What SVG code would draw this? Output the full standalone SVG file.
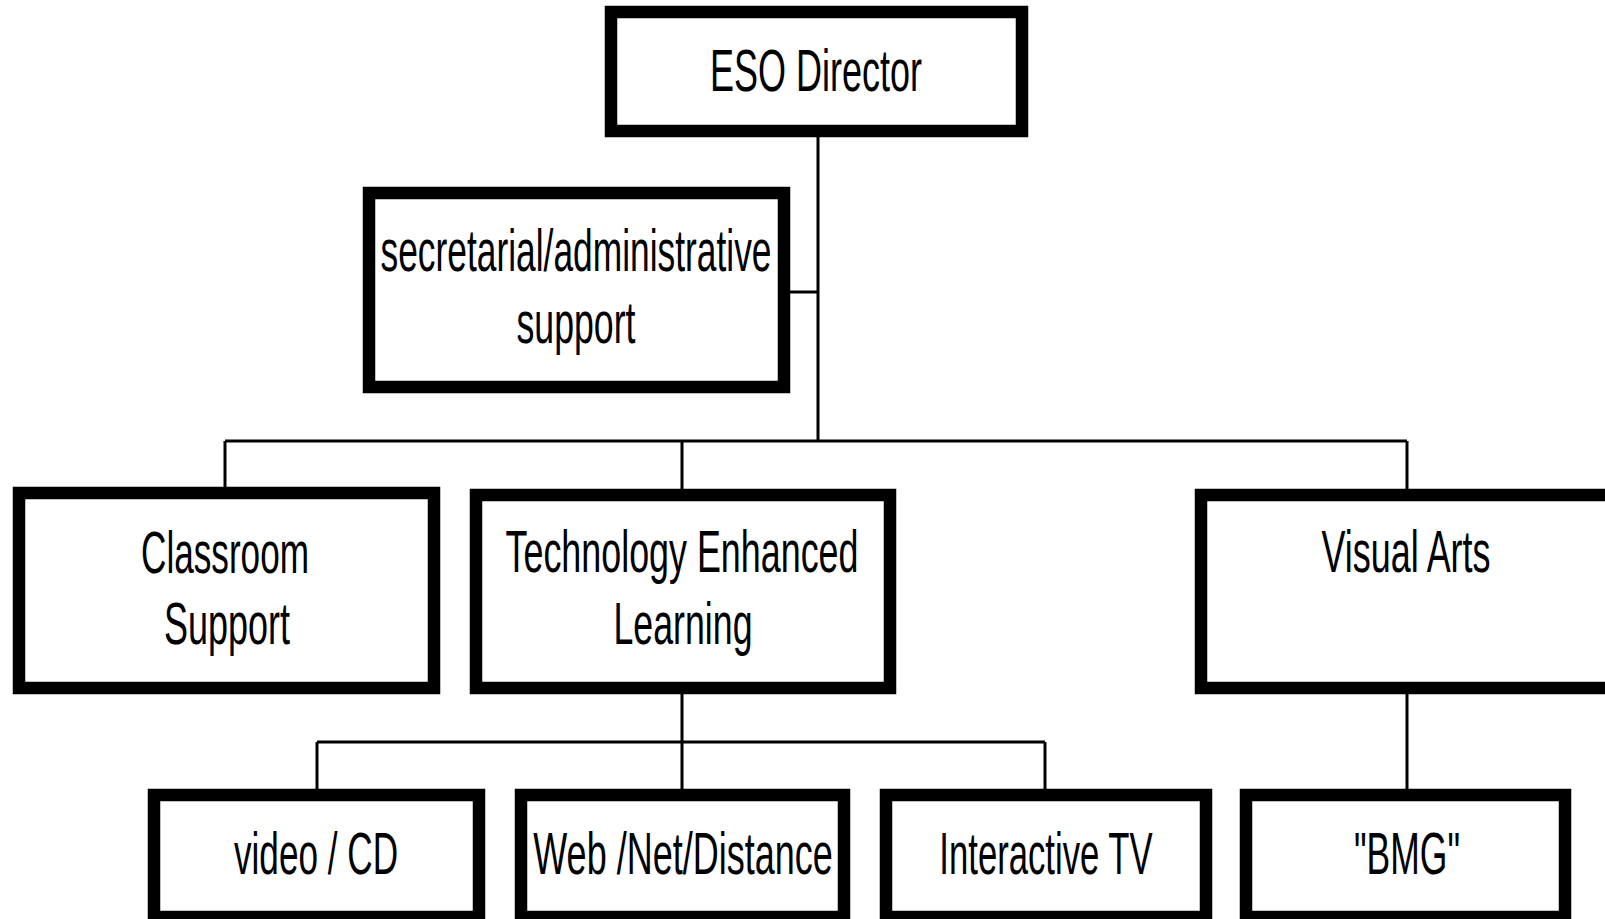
<svg xmlns="http://www.w3.org/2000/svg" width="1605" height="919" viewBox="0 0 1605 919">
  <style>
    .box { fill: #ffffff; stroke: #000000; stroke-width: 12.5; }
    .link { fill: none; stroke: #000000; stroke-width: 3; }
    .lbl { font-family: "Liberation Sans", Arial, sans-serif; font-size: 60px; fill: #000000; text-anchor: middle; }
  </style>
  <rect x="0" y="0" width="1605" height="919" fill="#ffffff"/>

  <!-- connectors -->
  <g id="connectors">
    <path class="link" d="M818 137 V441"/>
    <path class="link" d="M788 292 H818"/>
    <path class="link" d="M225 441 H1407"/>
    <path class="link" d="M225 441 V487"/>
    <path class="link" d="M682 441 V489"/>
    <path class="link" d="M1407 441 V489"/>
    <path class="link" d="M682 694 V789"/>
    <path class="link" d="M317 742 H1045"/>
    <path class="link" d="M317 742 V789"/>
    <path class="link" d="M1045 742 V789"/>
    <path class="link" d="M1407 694 V789"/>
  </g>

  <g id="eso-director">
    <rect class="box" x="611" y="12" width="411" height="119"/>
    <text class="lbl" x="816" y="91" textLength="212" lengthAdjust="spacingAndGlyphs">ESO Director</text>
  </g>

  <g id="secretarial-support">
    <rect class="box" x="369" y="193" width="415" height="194"/>
    <text class="lbl" x="576" y="271" textLength="391" lengthAdjust="spacingAndGlyphs">secretarial/administrative</text>
    <text class="lbl" x="576" y="343" textLength="119" lengthAdjust="spacingAndGlyphs">support</text>
  </g>

  <g id="classroom-support">
    <rect class="box" x="19" y="493" width="415" height="195"/>
    <text class="lbl" x="225" y="573" textLength="168" lengthAdjust="spacingAndGlyphs">Classroom</text>
    <text class="lbl" x="227" y="644" textLength="126" lengthAdjust="spacingAndGlyphs">Support</text>
  </g>

  <g id="tech-enhanced-learning">
    <rect class="box" x="476" y="495" width="414" height="193"/>
    <text class="lbl" x="682" y="572" textLength="353" lengthAdjust="spacingAndGlyphs">Technology Enhanced</text>
    <text class="lbl" x="683" y="644" textLength="139" lengthAdjust="spacingAndGlyphs">Learning</text>
  </g>

  <g id="visual-arts">
    <rect class="box" x="1201" y="495" width="420" height="193"/>
    <text class="lbl" x="1406" y="572" textLength="169" lengthAdjust="spacingAndGlyphs">Visual Arts</text>
  </g>

  <g id="video-cd">
    <rect class="box" x="154" y="795" width="325" height="122"/>
    <text class="lbl" x="316" y="874" textLength="164" lengthAdjust="spacingAndGlyphs">video / CD</text>
  </g>

  <g id="web-net-distance">
    <rect class="box" x="521" y="795" width="323" height="122"/>
    <!-- condensed horizontally to fit the box -->
    <text class="lbl" transform="translate(683 874) scale(0.6 1)" x="0" y="0">Web /Net/Distance</text>
  </g>

  <g id="interactive-tv">
    <rect class="box" x="886" y="795" width="320" height="122"/>
    <text class="lbl" transform="translate(1046 874) scale(0.578 1)" x="0" y="0">Interactive TV</text>
  </g>

  <g id="bmg">
    <rect class="box" x="1246" y="795" width="319" height="122"/>
    <text class="lbl" x="1407" y="874" textLength="106" lengthAdjust="spacingAndGlyphs">"BMG"</text>
  </g>
</svg>
